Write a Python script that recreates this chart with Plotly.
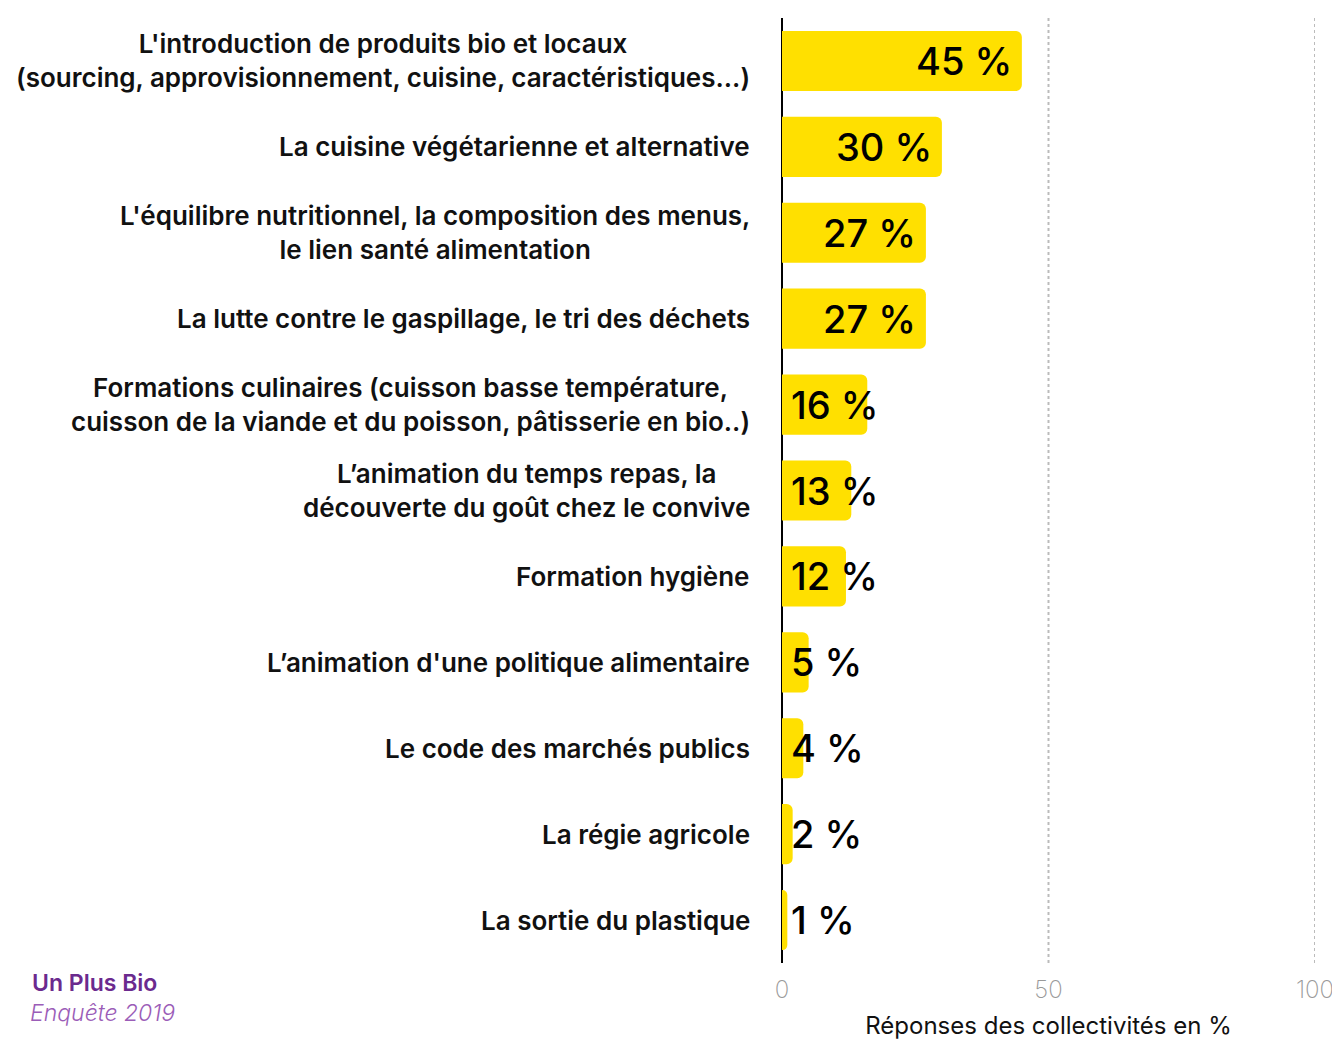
import plotly.graph_objects as go

# ---------- DATA ----------

categories = [
    "L'introduction de produits bio et locaux<br>(sourcing, approvisionnement, cuisine, caractéristiques...)",
    "La cuisine végétarienne et alternative",
    "L'équilibre nutritionnel, la composition des menus,<br>le lien santé alimentation",
    "La lutte contre le gaspillage, le tri des déchets",
    "Formations culinaires (cuisson basse température,<br>cuisson de la viande et du poisson, pâtisserie en bio..)",
    "L’animation du temps repas, la<br>découverte du goût chez le convive",
    "Formation hygiène",
    "L’animation d'une politique alimentaire",
    "Le code des marchés publics",
    "La régie agricole",
    "La sortie du plastique",
]
values = [45, 30, 27, 27, 16, 13, 12, 5, 4, 2, 1]
x_ticks = [0, 50, 100]

YELLOW = "#FFE000"
PURPLE = "#6B2A8E"
FONT = "Inter"

# page body has an 8px margin; the figure is drawn 8px in from the corner
PAGE = 8
W, H = 1340 - PAGE, 1048 - 2 * PAGE
L, T = 782 - PAGE, 18 - PAGE
R = W - (1315 - PAGE)
B = H - (963 - PAGE)


def px_to_paper(px, py):
    # window pixel -> paper coords
    fx, fy = px - PAGE, py - PAGE
    return (fx - L) / (W - L - R), 1 - (fy - T) / (H - T - B)


# ---------- FIGURE ----------

fig = go.Figure()

fig.add_bar(
    y=categories,
    x=values,
    orientation="h",
    marker=dict(color=YELLOW, line=dict(width=0), cornerradius=6),
    hoverinfo="skip",
)

# dotted grid lines
for t in x_ticks[1:]:
    fig.add_shape(
        type="line", xref="x", yref="paper", x0=t, x1=t, y0=0, y1=1,
        line=dict(color="#BBBBBB", width=2, dash="dot"), layer="below",
    )

# category labels, centred lines
for cat in categories:
    fig.add_annotation(
        x=0, xref="paper", xanchor="right", xshift=-30,
        y=cat, yref="y", yanchor="middle",
        text=cat, align="center", showarrow=False,
        font=dict(family=FONT, size=26, color="#111", weight=600),
    )

# value labels: inside end when they fit, otherwise from the base
for cat, v in zip(categories, values):
    inside = v > 20
    fig.add_annotation(
        x=v if inside else 0, xref="x",
        xanchor="right" if inside else "left",
        xshift=-8 if inside else 7,
        y=cat, yref="y", yanchor="middle",
        text=f"{v} %", showarrow=False,
        font=dict(family=FONT, size=38, color="#000", weight=500),
    )

# source block
sx, sy = px_to_paper(30, 983)
fig.add_annotation(
    x=sx, y=sy, xref="paper", yref="paper", xanchor="left", yanchor="middle",
    text="Un Plus Bio", showarrow=False,
    font=dict(family=FONT, size=23, color=PURPLE, weight=600),
)
sx, sy = px_to_paper(28, 1013)
fig.add_annotation(
    x=sx, y=sy, xref="paper", yref="paper", xanchor="left", yanchor="middle",
    text="<i>Enquête 2019</i>", showarrow=False,
    font=dict(family=FONT, size=23, color="#9B5DB8", weight=300),
)

fig.update_layout(
    width=W,
    height=H,
    template="plotly_white",
    plot_bgcolor="white",
    paper_bgcolor="white",
    showlegend=False,
    bargap=0.3,
    margin=dict(l=L, r=R, t=T, b=B, autoexpand=False),
    xaxis=dict(
        range=[0, 100],
        tickvals=x_ticks,
        automargin=False,
        showgrid=False,
        zeroline=True,
        zerolinecolor="#000",
        zerolinewidth=2,
        showline=False,
        ticks="",
        ticklabelstandoff=10,
        ticklabeloverflow="allow",
        tickfont=dict(family=FONT, size=24, color="#999", weight=200),
        title=dict(
            text="Réponses des collectivités en %",
            font=dict(family=FONT, size=24, color="#111"),
            standoff=29,
        ),
        fixedrange=True,
    ),
    yaxis=dict(
        autorange="reversed",
        automargin=False,
        showticklabels=False,
        showgrid=False,
        zeroline=False,
        fixedrange=True,
    ),
)

fig.write_html("out.html")
